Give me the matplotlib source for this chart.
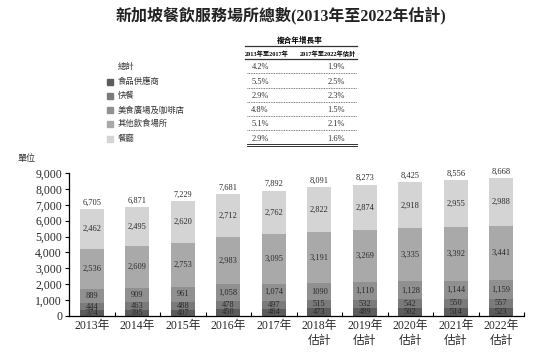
import matplotlib.pyplot as plt
from matplotlib.patches import Rectangle
from matplotlib.lines import Line2D
import numpy as np

plt.rcParams['font.family'] = ['Liberation Serif', 'Noto Sans CJK TC']

# data
years = ['2013年', '2014年', '2015年', '2016年', '2017年',
         '2018年\n估計', '2019年\n估計', '2020年\n估計', '2021年\n估計', '2022年\n估計']
foodSupply = [374, 395, 407, 450, 464, 473, 489, 502, 514, 523]
fastFood = [444, 463, 488, 478, 497, 515, 532, 542, 550, 557]
foodCourt = [889, 909, 961, 1058, 1074, 1090, 1110, 1128, 1144, 1159]
otherPlaces = [2536, 2609, 2753, 2983, 3095, 3191, 3269, 3335, 3392, 3441]
restaurants = [2462, 2495, 2620, 2712, 2762, 2822, 2874, 2918, 2955, 2988]
totals = [6705, 6871, 7229, 7681, 7892, 8091, 8273, 8425, 8556, 8668]
midLabels = ['889', '909', '961', '1,058', '1,074', '1090', '1,110', '1,128', '1,144', '1,159']

seriesNames = ['食品供應商', '快餐', '美食廣場及咖啡店', '其他飲食場所', '餐廳']
cagr1 = ['4.2%', '5.5%', '2.9%', '4.8%', '5.1%', '2.9%']
cagr2 = ['1.9%', '2.5%', '2.3%', '1.5%', '2.1%', '1.6%']
colors = ['#5c5c5c', '#7a7a7a', '#909090', '#a9a9a9', '#d4d4d4']
txtCol = '#2a2a2a'

W, H = 554, 354
fig = plt.figure(figsize=(W/100, H/100), dpi=100)

def px(x, y):
    return x / W, 1 - y / H

# title
fig.text(*px(281, 15), '新加坡餐飲服務場所總數(2013年至2022年估計)', ha='center', va='center',
         fontsize=11.5, fontweight='bold', color='#222222')

# CAGR table
fig.text(*px(300, 41), '複合年增長率', ha='center', va='center', fontsize=5.5, fontweight='bold')
fig.add_artist(Line2D([245/W, 357/W], [1-46/H, 1-46/H], color='#333333', lw=0.9))
fig.text(*px(267, 54), '2013年至2017年', ha='center', va='center', fontsize=4.5, fontweight='bold')
fig.text(*px(328, 54), '2017年至2022年估計', ha='center', va='center', fontsize=4.5, fontweight='bold')
fig.add_artist(Line2D([245/W, 357/W], [1-59/H, 1-59/H], color='#333333', lw=0.9))

rowY = [67, 82, 96, 110, 124, 139]
rowNames = ['總計'] + seriesNames
for i, y in enumerate(rowY):
    fig.text(*px(118, y), rowNames[i], ha='left', va='center', fontsize=6, color='#333333')
    if i > 0:
        fig.add_artist(Rectangle(px(107, y + 3), 6/W, 6/H, color=colors[i-1], transform=fig.transFigure))
    fig.text(*px(260, y), cagr1[i], ha='center', va='center', fontsize=6, color='#333333')
    fig.text(*px(336, y), cagr2[i], ha='center', va='center', fontsize=6, color='#333333')
    if i < len(rowY) - 1:
        fig.add_artist(Line2D([247/W, 357/W], [1-(y+6)/H, 1-(y+6)/H], color='#555555', lw=0.6, ls=(0, (1, 1))))
fig.add_artist(Line2D([247/W, 357/W], [1-144/H, 1-144/H], color='#333333', lw=0.7))
fig.add_artist(Line2D([247/W, 357/W], [1-146/H, 1-146/H], color='#333333', lw=0.7))

# bar chart
ax = fig.add_axes([69/W, 1-316/H, (524-69)/W, (316-173)/H])
x = np.arange(len(years))
stack = [foodSupply, fastFood, foodCourt, otherPlaces, restaurants]
bottom = np.zeros(len(years))
for k, vals in enumerate(stack):
    ax.bar(x, vals, width=0.53, bottom=bottom, color=colors[k], edgecolor='none')
    for i, v in enumerate(vals):
        lab = midLabels[i] if k == 2 else f'{v:,}'
        ax.text(x[i], bottom[i] + v/2, lab, ha='center', va='center', fontsize=6, color=txtCol)
    bottom += np.array(vals)
for i, t in enumerate(totals):
    ax.text(x[i], t + 150, f'{t:,}', ha='center', va='bottom', fontsize=6, color=txtCol)

ax.set_xlim(-0.5, 9.5)
ax.set_ylim(0, 9000)
ax.set_yticks(np.arange(0, 9001, 1000))
ax.set_yticklabels([f'{v:,}' for v in range(0, 9001, 1000)], fontsize=8.5, color=txtCol)
ax.set_xticks(x)
ax.set_xticklabels(years, fontsize=8.5, linespacing=1.25, color=txtCol)
ax.tick_params(axis='x', length=0, pad=3)
ax.set_xticks(np.arange(0.5, 9.6, 1), minor=True)
ax.tick_params(axis='x', which='minor', direction='in', length=3, width=0.8)
ax.tick_params(axis='y', direction='out', length=3, width=0.8, pad=2)
for s in ['top', 'right']:
    ax.spines[s].set_visible(False)
ax.spines['left'].set_linewidth(0.9)
ax.spines['bottom'].set_linewidth(0.9)

fig.text(*px(26, 159), '單位', ha='center', va='center', fontsize=6.5, color='#333333')

fig.savefig('out.png', dpi=100)
